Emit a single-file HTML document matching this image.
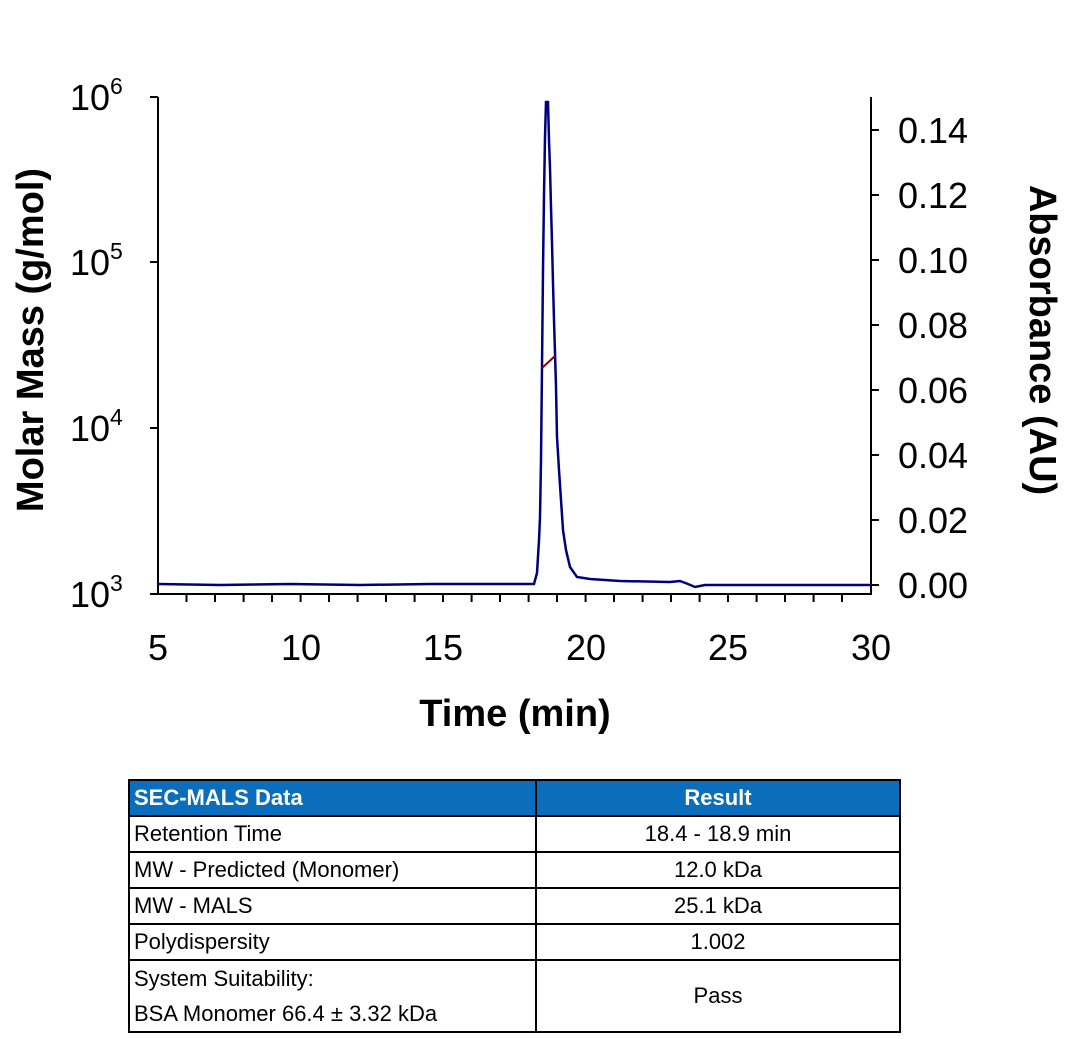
<!DOCTYPE html>
<html><head><meta charset="utf-8"><style>
body{margin:0;background:#fff;width:1069px;height:1039px;overflow:hidden;font-family:"Liberation Sans",Arial,sans-serif}
table{position:absolute;left:128px;top:779px;border-collapse:collapse;font-family:"Liberation Sans",sans-serif;font-size:22px}
td{border:2px solid #000;padding:0 4px;height:34px;line-height:34px}
</style></head><body>
<svg width="1069" height="760" style="position:absolute;left:0;top:0" font-family="Liberation Sans, Arial, sans-serif">
<g stroke="#000" stroke-width="2" fill="none">
<line x1="158" y1="97" x2="158" y2="595"/>
<line x1="871" y1="97" x2="871" y2="595"/>
<line x1="157" y1="594" x2="872" y2="594"/>
<line x1="150" y1="97" x2="158" y2="97"/><line x1="150" y1="262" x2="158" y2="262"/><line x1="150" y1="428" x2="158" y2="428"/><line x1="150" y1="594" x2="158" y2="594"/>
<line x1="871" y1="130" x2="879" y2="130"/><line x1="871" y1="195" x2="879" y2="195"/><line x1="871" y1="260" x2="879" y2="260"/><line x1="871" y1="325" x2="879" y2="325"/><line x1="871" y1="390" x2="879" y2="390"/><line x1="871" y1="455" x2="879" y2="455"/><line x1="871" y1="520" x2="879" y2="520"/><line x1="871" y1="585" x2="879" y2="585"/>
<path d="M186.5 594v8M215 594v8M243.6 594v8M272 594v8M300.6 594v8M329 594v8M357.6 594v8M386 594v8M414.6 594v8M443 594v8M471.6 594v8M500 594v8M528.6 594v8M557 594v8M585.6 594v8M614 594v8M642.6 594v8M671 594v8M699.6 594v8M728 594v8M756.6 594v8M785 594v8M813.6 594v8M842 594v8"/>
</g>
<g font-size="36" fill="#000">
<text x="70" y="110">10<tspan font-size="23" dy="-16">6</tspan></text>
<text x="70" y="275">10<tspan font-size="23" dy="-16">5</tspan></text>
<text x="70" y="441">10<tspan font-size="23" dy="-16">4</tspan></text>
<text x="70" y="607">10<tspan font-size="23" dy="-16">3</tspan></text>
</g>
<g font-size="36" fill="#000" text-anchor="start">
<text x="898" y="143">0.14</text><text x="898" y="208">0.12</text><text x="898" y="273">0.10</text><text x="898" y="338">0.08</text><text x="898" y="403">0.06</text><text x="898" y="468">0.04</text><text x="898" y="533">0.02</text><text x="898" y="598">0.00</text>
</g>
<g font-size="36" fill="#000" text-anchor="middle">
<text x="158" y="660">5</text><text x="301" y="660">10</text><text x="443" y="660">15</text><text x="586" y="660">20</text><text x="728" y="660">25</text><text x="871" y="660">30</text>
</g>
<text x="515" y="726" font-size="38" font-weight="bold" text-anchor="middle">Time (min)</text>
<text transform="translate(43,340) rotate(-90)" font-size="38" font-weight="bold" text-anchor="middle">Molar Mass (g/mol)</text>
<text transform="translate(1030,340) rotate(90)" font-size="38" font-weight="bold" text-anchor="middle">Absorbance (AU)</text>
<polyline fill="none" stroke="#00007f" stroke-width="2.5" points="158,584 220,585 290,584 360,585 430,584 480,584 534,584 537,573 539,540 540,517 541,460 542,367 543,270 544,195 545,137 546,102 548,102 549,140 550,168 551,207 552,243 553,283 554,320 555,353 556,387 557,437 559,470 561,500 563,530 566,550 570,567 577,577 590,579 620,581 670,582 680,581 688,584 695,587 705,585 871,585"/>
<line x1="542" y1="368" x2="555" y2="356" stroke="#8b0000" stroke-width="2"/>
</svg>
<table>
<tr style="background:#0a6ebd;color:#fff;font-weight:bold"><td style="width:397px">SEC-MALS Data</td><td style="width:354px;text-align:center">Result</td></tr>
<tr><td>Retention Time</td><td style="text-align:center">18.4 - 18.9 min</td></tr>
<tr><td>MW - Predicted (Monomer)</td><td style="text-align:center">12.0 kDa</td></tr>
<tr><td>MW - MALS</td><td style="text-align:center">25.1 kDa</td></tr>
<tr><td>Polydispersity</td><td style="text-align:center">1.002</td></tr>
<tr><td style="height:68px;line-height:35px">System Suitability:<br>BSA Monomer 66.4 ± 3.32 kDa</td><td style="text-align:center">Pass</td></tr>
</table>
</body></html>
